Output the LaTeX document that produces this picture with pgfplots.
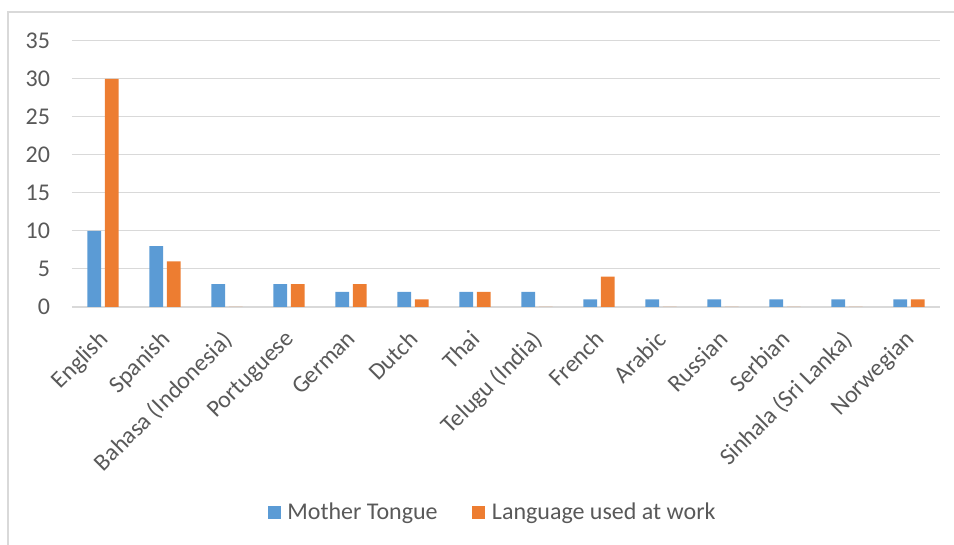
\documentclass[border=0pt]{standalone}
\usepackage{pgfplots}
\pgfplotsset{compat=1.18}
\usepackage{fontspec}
\setmainfont{Carlito}
\definecolor{mt}{HTML}{5B9BD5}
\definecolor{lw}{HTML}{ED7D31}
\definecolor{gridc}{HTML}{D9D9D9}
\definecolor{txt}{HTML}{595959}
\begin{document}
\begin{tikzpicture}
\begin{axis}[
    name=ax,
    scale only axis,
    width=651pt, height=199.5pt,
    ybar=2.8pt,
    bar width=10.3pt,
    xmin=-0.5, xmax=13.5,
    ymin=0, ymax=35,
    ytick={0,5,...,35},
    xtick=data,
    xticklabels={English,Spanish,Bahasa (Indonesia),Portuguese,German,Dutch,Thai,Telugu (India),French,Arabic,Russian,Serbian,Sinhala (Sri Lanka),Norwegian},
    axis x line=bottom,
    axis y line=left,
    axis line style={-},
    x axis line style={draw=gridc, line width=1pt},
    y axis line style={draw=none},
    ymajorgrids,
    grid style={gridc, line width=0.75pt},
    major tick length=0pt,
    tick label style={font=\fontsize{18}{21}\selectfont, text=txt},
    /pgf/number format/assume math mode=true,
    yticklabel style={xshift=-13pt},
    xticklabel style={xshift=-4pt, yshift=-15pt, rotate=45, anchor=north east, inner sep=1pt},
    legend style={at={(0.485,-0.771)}, anchor=center, draw=none,
        legend columns=-1, font=\fontsize{18}{21}\selectfont, text=txt,
        /tikz/every odd column/.append style={column sep=3pt},
        /tikz/every even column/.append style={column sep=24pt}},
    legend image code/.code={\fill[#1] (0pt,-4.9pt) rectangle (9.75pt,4.9pt);},
]
\addplot[fill=mt, draw=none] coordinates {
    (0,10) (1,8) (2,3) (3,3) (4,2) (5,2) (6,2) (7,2) (8,1) (9,1) (10,1) (11,1) (12,1) (13,1)};
\addplot[fill=lw, draw=none] coordinates {
    (0,30) (1,6) (2,0) (3,3) (4,3) (5,1) (6,2) (7,0) (8,4) (9,0) (10,0) (11,0) (12,0) (13,1)};
\legend{Mother Tongue,Language used at work}
\end{axis}
\useasboundingbox ([xshift=-54pt,yshift=-178.5pt]ax.south west) rectangle ([xshift=10.5pt,yshift=30.75pt]ax.north east);
\draw[gridc, line width=0.9pt] ([xshift=-48pt,yshift=-178.5pt]ax.south west) -- ([xshift=-48pt,yshift=21.75pt]ax.north west) -- ([xshift=10.5pt,yshift=21.75pt]ax.north east);
\end{tikzpicture}
\end{document}
